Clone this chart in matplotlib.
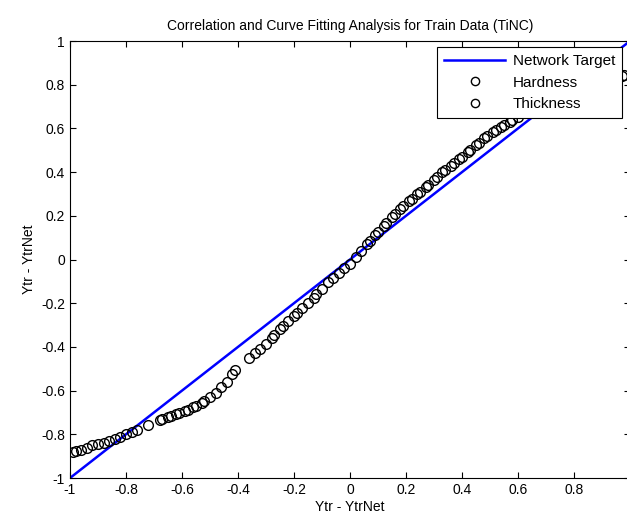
import matplotlib.pyplot as plt
import numpy as np

plt.rcParams['font.family'] = ['Liberation Sans', 'DejaVu Sans']

# Network target line
target_x = [-1.0, 1.0]
target_y = [-1.0, 1.0]

# Hardness: actual minus network output
hard_x = [-0.99, -0.96, -0.92, -0.88, -0.84, -0.80, -0.76, -0.72, -0.68, -0.65,
          -0.62, -0.59, -0.56, -0.53, -0.50, -0.46, -0.42, -0.36, -0.32, -0.28,
          -0.25, -0.22, -0.19, -0.15, -0.12, -0.08, -0.04, 0.00, 0.04, 0.07,
          0.10, 0.13, 0.16, 0.19, 0.22, 0.25, 0.28, 0.31, 0.34, 0.37,
          0.40, 0.43, 0.46, 0.49, 0.52, 0.55, 0.58, 0.98]
hard_y = [-0.880, -0.872, -0.850, -0.838, -0.820, -0.800, -0.780, -0.757, -0.735, -0.722,
          -0.708, -0.695, -0.676, -0.655, -0.628, -0.585, -0.525, -0.450, -0.408, -0.360,
          -0.318, -0.280, -0.245, -0.200, -0.160, -0.105, -0.060, -0.020, 0.038, 0.085,
          0.125, 0.168, 0.208, 0.245, 0.278, 0.310, 0.343, 0.377, 0.410, 0.440,
          0.470, 0.503, 0.535, 0.565, 0.592, 0.615, 0.637, 0.845]

# Thickness: actual minus network output
thick_x = [-0.98, -0.94, -0.90, -0.86, -0.82, -0.78, -0.67, -0.64, -0.61, -0.58,
           -0.55, -0.52, -0.48, -0.44, -0.41, -0.34, -0.30, -0.27, -0.24, -0.20,
           -0.17, -0.13, -0.10, -0.06, -0.02, 0.02, 0.06, 0.09, 0.12, 0.15,
           0.18, 0.21, 0.24, 0.27, 0.30, 0.33, 0.36, 0.39, 0.42, 0.45,
           0.48, 0.51, 0.54, 0.57, 0.60, 0.97]
thick_y = [-0.878, -0.862, -0.845, -0.830, -0.810, -0.790, -0.730, -0.718, -0.703, -0.690,
           -0.670, -0.648, -0.610, -0.560, -0.505, -0.430, -0.385, -0.345, -0.305, -0.258,
           -0.222, -0.175, -0.135, -0.085, -0.040, 0.010, 0.070, 0.112, 0.155, 0.195,
           0.233, 0.266, 0.300, 0.332, 0.366, 0.400, 0.430, 0.460, 0.492, 0.525,
           0.555, 0.583, 0.608, 0.630, 0.650, 0.840]

fig = plt.figure(figsize=(6.27, 5.23), dpi=100)
ax = fig.add_axes([0.1116, 0.086, 0.8932, 0.8356])

ax.plot(target_x, target_y, color=(0, 0, 1), lw=1.8, label='Network Target')
ax.plot(hard_x, hard_y, 'o', mfc='none', mec='k', ms=7, mew=1.0, label='Hardness')
ax.plot(thick_x, thick_y, 'o', mfc='none', mec='k', ms=7, mew=1.0, label='Thickness')

ax.set_xlim(-1, 1)
ax.set_ylim(-1, 1)
ticks = np.round(np.arange(-1, 1.01, 0.2), 1)
labels = ['-1' if t == -1 else ('1' if t == 1 else ('0' if t == 0 else f'{t:g}')) for t in ticks]
ax.set_xticks(ticks)
# the x=1 label falls past the figure edge
ax.set_xticklabels(labels[:-1] + [''])
ax.set_yticks(ticks)
ax.set_yticklabels(labels)
ax.tick_params(direction='in', top=True, right=True, length=4, labelsize=10, width=0.8)
for s in ax.spines.values():
    s.set_linewidth(0.8)

ax.set_title('Correlation and Curve Fitting Analysis for Train Data (TiNC)', fontsize=10, pad=8)
ax.set_xlabel('Ytr - YtrNet', fontsize=10, labelpad=2)
ax.set_ylabel('Ytr - YtrNet', fontsize=10, labelpad=4)

leg = ax.legend(loc='upper right', bbox_to_anchor=(0.986, 0.986), borderaxespad=0,
                fancybox=False, edgecolor='k', fontsize=11, framealpha=1,
                handlelength=4.0, handletextpad=0.5, borderpad=0.45,
                labelspacing=0.5, markerscale=0.85)
leg.get_frame().set_linewidth(0.8)

fig.savefig('out.png', dpi=100)
